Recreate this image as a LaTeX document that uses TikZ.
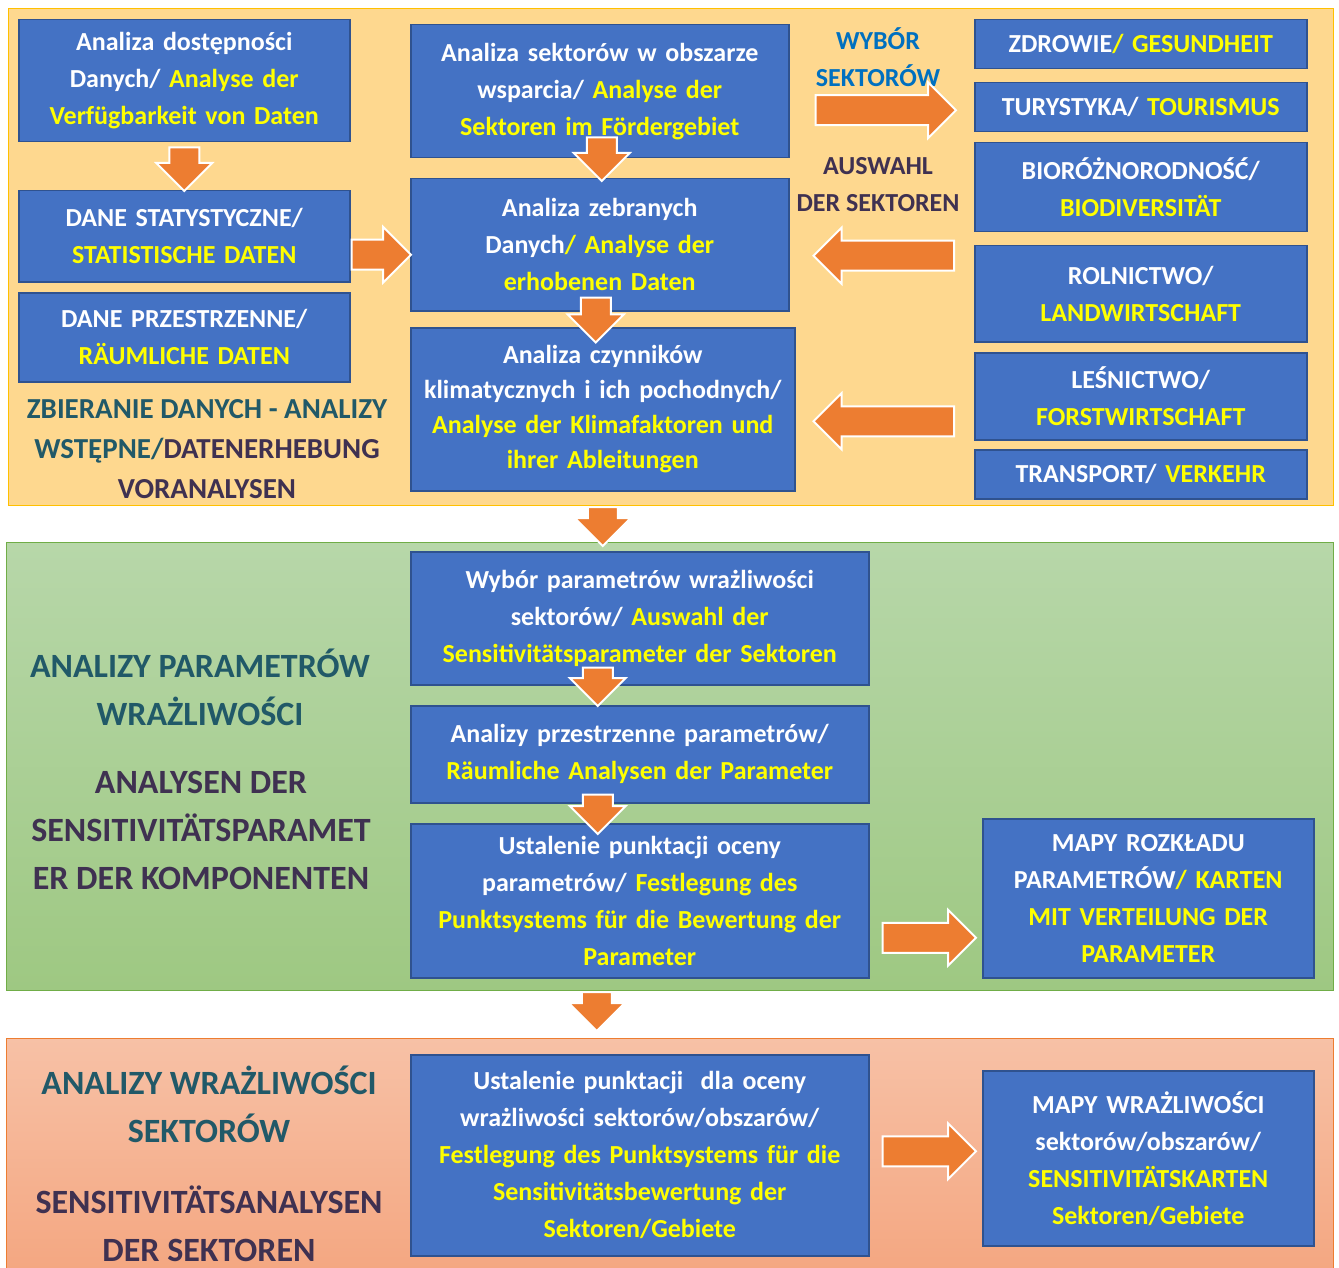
\documentclass[tikz,border=0pt]{standalone}
\usepackage{fontspec}
\setmainfont{Carlito}
\usetikzlibrary{shapes.arrows,calc}

\definecolor{boxblue}{RGB}{68,114,196}
\definecolor{boxline}{RGB}{47,82,143}
\definecolor{txtyel}{RGB}{255,255,0}
\definecolor{arrorange}{RGB}{237,125,49}
\definecolor{tealtxt}{RGB}{33,89,104}
\definecolor{purptxt}{RGB}{63,49,81}
\definecolor{seltxt}{RGB}{0,112,192}
\definecolor{ybandfill}{RGB}{254,216,143}
\definecolor{ybandline}{RGB}{255,192,0}
\definecolor{gbandtop}{RGB}{183,215,169}
\definecolor{gbandbot}{RGB}{158,200,130}
\definecolor{gbandline}{RGB}{112,173,71}
\definecolor{pbandtop}{RGB}{247,193,166}
\definecolor{pbandbot}{RGB}{244,166,128}
\definecolor{pbandline}{RGB}{237,125,49}

\newcommand{\de}[1]{\textcolor{txtyel}{#1}}

\begin{document}
\begin{tikzpicture}[x=1pt,y=-1pt,
  box/.style={draw=boxline, line width=1.5pt, fill=boxblue, text=white, align=center,
    font=\bfseries\fontsize{26}{37}\selectfont, inner sep=0pt, anchor=north west},
  band/.style={line width=1pt, inner sep=0pt, anchor=north west},
  lbl/.style={align=center, font=\bfseries\fontsize{29}{40}\selectfont},
  biglbl/.style={align=center, font=\bfseries\fontsize{34}{48}\selectfont},
  blk/.style={single arrow, draw=white, line width=2pt, fill=arrorange,
    inner xsep=0pt, inner ysep=14pt, text height=0pt, text depth=0pt,
    single arrow head extend=13pt, anchor=tail}]
\useasboundingbox (0,0) rectangle (1339,1268);

% bands
\node[band, fill=ybandfill, draw=ybandline, minimum width=1325pt, minimum height=497pt] (tb) at (8,8) {};
\node[band, top color=gbandtop, bottom color=gbandbot, draw=gbandline, minimum width=1327pt, minimum height=448pt] (gb) at (6,542) {};
\node[band, top color=pbandtop, bottom color=pbandbot, draw=pbandline, minimum width=1327pt, minimum height=240pt] (pb) at (6,1038) {};

% data collection
\node[box, minimum width=331pt, minimum height=122pt, text width=321pt] (a1) at (18,19)
  {Analiza dostępności\\ Danych/ \de{Analyse der}\\ \de{Verfügbarkeit von Daten}};
\node[box, minimum width=331pt, minimum height=91pt, text width=321pt] (a2) at (18,190)
  {DANE STATYSTYCZNE/\\ \de{STATISTISCHE DATEN}};
\node[box, minimum width=331pt, minimum height=89pt, text width=321pt] (a3) at (18,292)
  {DANE PRZESTRZENNE/\\ \de{RÄUMLICHE DATEN}};
\node[lbl, text=tealtxt] (ltop) at (207,449)
  {ZBIERANIE DANYCH - ANALIZY\\ WSTĘPNE/\textcolor{purptxt}{DATENERHEBUNG}\\ \textcolor{purptxt}{VORANALYSEN}};

\node[box, minimum width=378pt, minimum height=133pt, text width=368pt] (b1) at (410,24)
  {Analiza sektorów w obszarze\\ wsparcia/ \de{Analyse der}\\ \de{Sektoren im Fördergebiet}};
\node[box, minimum width=378pt, minimum height=132pt, text width=368pt] (b2) at (410,178)
  {Analiza zebranych\\ Danych\de{/ Analyse der}\\ \de{erhobenen Daten}};
\node[box, minimum width=384pt, minimum height=163pt, text width=374pt,
  font=\bfseries\fontsize{26}{35}\selectfont] (b3) at (410,327)
  {Analiza czynników\\ klimatycznych i ich pochodnych/\\ \de{Analyse der Klimafaktoren und}\\ \de{ihrer Ableitungen}};

\node[lbl, text=seltxt, font=\bfseries\fontsize{26}{37}\selectfont] (wyb) at (878,57) {WYBÓR\\ SEKTORÓW};
\node[lbl, text=purptxt, font=\bfseries\fontsize{26}{37}\selectfont] (ausw) at (878,185) {AUSWAHL\\ DER SEKTOREN};

% sectors
\node[box, minimum width=332pt, minimum height=49pt, text width=322pt] (z) at (974,19) {ZDROWIE\de{/ GESUNDHEIT}};
\node[box, minimum width=332pt, minimum height=49pt, text width=322pt] (t) at (974,82) {TURYSTYKA/ \de{TOURISMUS}};
\node[box, minimum width=332pt, minimum height=89pt, text width=322pt] (bio) at (974,142) {BIORÓŻNORODNOŚĆ/\\ \de{BIODIVERSITÄT}};
\node[box, minimum width=332pt, minimum height=96pt, text width=322pt] (rol) at (974,245) {ROLNICTWO/\\ \de{LANDWIRTSCHAFT}};
\node[box, minimum width=332pt, minimum height=87pt, text width=322pt] (les) at (974,352) {LEŚNICTWO/\\ \de{FORSTWIRTSCHAFT}};
\node[box, minimum width=332pt, minimum height=49pt, text width=322pt] (tr) at (974,449) {TRANSPORT/ \de{VERKEHR}};

% sensitivity parameters
\node[biglbl, text=tealtxt] (gpl) at (200,687) {ANALIZY PARAMETRÓW\\ WRAŻLIWOŚCI};
\node[biglbl, text=purptxt] (gde) at (201,830) {ANALYSEN DER\\ SENSITIVITÄTSPARAMET\\ ER DER KOMPONENTEN};

\node[box, minimum width=458pt, minimum height=133pt, text width=448pt] (c1) at (410,551)
  {Wybór parametrów wrażliwości\\ sektorów/ \de{Auswahl der}\\ \de{Sensitivitätsparameter der Sektoren}};
\node[box, minimum width=458pt, minimum height=97pt, text width=448pt] (c2) at (410,705)
  {Analizy przestrzenne parametrów/\\ \de{Räumliche Analysen der Parameter}};
\node[box, minimum width=458pt, minimum height=154pt, text width=448pt] (c3) at (410,823)
  {Ustalenie punktacji oceny\\ parametrów/ \de{Festlegung des}\\ \de{Punktsystems für die Bewertung der}\\ \de{Parameter}};
\node[box, minimum width=331pt, minimum height=159pt, text width=321pt] (mr) at (982,818)
  {MAPY ROZKŁADU\\ PARAMETRÓW\de{/ KARTEN}\\ \de{MIT VERTEILUNG DER}\\ \de{PARAMETER}};

% sector sensitivity
\node[biglbl, text=tealtxt] (ppl) at (209,1104) {ANALIZY WRAŻLIWOŚCI\\ SEKTORÓW};
\node[biglbl, text=purptxt] (pde) at (209,1224) {SENSITIVITÄTSANALYSEN\\ DER SEKTOREN};

\node[box, minimum width=458pt, minimum height=201pt, text width=448pt] (d1) at (410,1054)
  {Ustalenie punktacji\ \ dla oceny\\ wrażliwości sektorów/obszarów/\\ \de{Festlegung des Punktsystems für die}\\ \de{Sensitivitätsbewertung der}\\ \de{Sektoren/Gebiete}};
\node[box, minimum width=331pt, minimum height=175pt, text width=321pt] (mw) at (982,1070)
  {MAPY WRAŻLIWOŚCI\\ sektorów/obszarów/\\ \de{SENSITIVITÄTSKARTEN}\\ \de{Sektoren/Gebiete}};

% arrow ends
\coordinate (s1) at ($(a1.south)+(0,4)$);           \coordinate (e1) at (a2.north);
\coordinate (s2) at ($(a2.east |- b2.west)+(0,10)$); \coordinate (e2) at ($(b2.west)+(0,10)$);
\coordinate (s3) at ($(b1.south)+(2,-22)$);          \coordinate (e3) at ($(b2.north)+(2,2)$);
\coordinate (s4) at ($(b2.south)+(-4,-15)$);         \coordinate (e4) at ($(b2.south)+(-4,30)$);
\coordinate (s5) at (b3.south |- tb.south);          \coordinate (e5) at ($(b3.south |- gb.north)+(0,3)$);
\coordinate (s6) at ($(b1.east |- t.west)+(25,3)$);  \coordinate (e6) at ($(t.west)+(-19,3)$);
\coordinate (s7) at ($(rol.west |- b2.east)+(-19,11)$); \coordinate (e7) at ($(b2.east)+(25,11)$);
\coordinate (s8) at ($(les.west |- b3.east)+(-19,12)$); \coordinate (e8) at ($(b3.east)+(19,12)$);
\coordinate (s9) at ($(c1.south)+(-42,-19)$);        \coordinate (e9) at ($(c2.north)+(-42,0)$);
\coordinate (s10) at ($(c2.south)+(-42,-10)$);       \coordinate (e10) at ($(c3.north)+(-42,10)$);
\coordinate (s11) at ($(c3.east)+(12,37)$);          \coordinate (e11) at ($(c3.east -| mr.west)+(-7,37)$);
\coordinate (s12) at ($(c3.south |- gb.south)+(-43,0)$); \coordinate (e12) at ($(c3.south |- pb.north)+(-43,-8)$);
\coordinate (s13) at ($(d1.east)+(12,-4)$);          \coordinate (e13) at ($(d1.east -| mw.west)+(-7,-4)$);

\foreach \i in {1,...,13} {
  \path let \p1=(s\i), \p2=(e\i), \n1={veclen(\x2-\x1,\y2-\y1)}, \n2={atan2(\y2-\y1,\x2-\x1)} in
    node[blk, minimum height=\n1, rotate=\n2] (arr\i) at (s\i) {};
}
\end{tikzpicture}
\end{document}
